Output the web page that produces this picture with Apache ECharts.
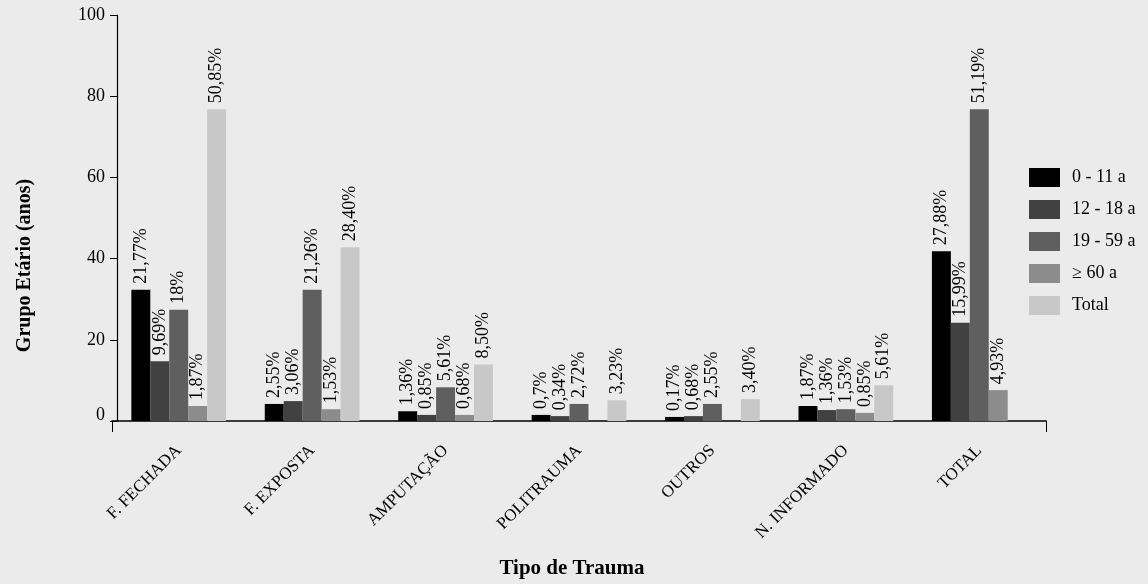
<!DOCTYPE html>
<html>
<head>
<meta charset="utf-8">
<script src="https://cdn.jsdelivr.net/npm/echarts@6/dist/echarts.min.js"></script>
<style>
html,body{margin:0;padding:0;background:#ebebeb;}
#chart{width:1148px;height:584px;}
</style>
</head>
<body>
<div id="chart"></div>
<script>
const categories = ['F. FECHADA','F. EXPOSTA','AMPUTAÇÃO','POLITRAUMA','OUTROS','N. INFORMADO','TOTAL'];
const seriesNames = ['0 - 11 a','12 - 18 a','19 - 59 a','≥ 60 a','Total'];
const yTicks = [0,20,40,60,80,100];

const v0_11   = [32.3, 4.2, 2.4, 1.5, 1.0, 3.7, 41.8];
const v12_18  = [14.7, 4.9, 1.5, 1.2, 1.2, 2.7, 24.2];
const v19_59  = [27.4, 32.3, 8.3, 4.2, 4.2, 2.9, 76.8];
const v60     = [3.7, 2.9, 1.5, null, null, 2.0, 7.6];
const vTotal  = [76.8, 42.8, 13.9, 5.1, 5.4, 8.8, null];

const l0_11   = ['21,77%','2,55%','1,36%','0,7%','0,17%','1,87%','27,88%'];
const l12_18  = ['9,69%','3,06%','0,85%','0,34%','0,68%','1,36%','15,99%'];
const l19_59  = ['18%','21,26%','5,61%','2,72%','2,55%','1,53%','51,19%'];
const l60     = ['1,87%','1,53%','0,68%',null,null,'0,85%','4,93%'];
const lTotal  = ['50,85%','28,40%','8,50%','3,23%','3,40%','5,61%',null];

const colors = ['#000000','#414141','#5f5f5f','#8c8c8c','#c8c8c8'];
const values = [v0_11, v12_18, v19_59, v60, vTotal];
const labels = [l0_11, l12_18, l19_59, l60, lTotal];
const FONT = '"Liberation Serif", "DejaVu Serif", serif';

const chart = echarts.init(document.getElementById('chart'), null, {renderer:'canvas'});

const series = seriesNames.map((name, i) => ({
  name: name,
  type: 'bar',
  data: values[i],
  barGap: '0%',
  barCategoryGap: '29%',
  itemStyle: {color: colors[i]},
  label: {
    show: true,
    position: 'top',
    rotate: 90,
    align: 'left',
    verticalAlign: 'middle',
    distance: 6,
    color: '#000',
    fontFamily: FONT,
    fontSize: 18,
    formatter: p => labels[i][p.dataIndex] == null ? '' : labels[i][p.dataIndex]
  }
}));

chart.setOption({
  backgroundColor: '#ebebeb',
  animation: false,
  color: colors,
  grid: {left: 112, right: 102, top: 15, bottom: 160, containLabel: false},
  legend: {
    orient: 'vertical',
    left: 1029,
    top: 168,
    padding: 0,
    itemWidth: 31,
    itemHeight: 19,
    itemGap: 13,
    icon: 'rect',
    textStyle: {fontFamily: FONT, fontSize: 18, color: '#000', padding: [0,0,0,7]},
    data: seriesNames
  },
  xAxis: {
    type: 'category',
    data: categories,
    name: 'Tipo de Trauma',
    nameLocation: 'middle',
    nameGap: 137,
    nameTextStyle: {fontFamily: FONT, fontSize: 21, fontWeight: 'bold', color: '#000', padding: [0,14,0,0]},
    axisLine: {show: true, lineStyle: {color: '#000', width: 1.5}},
    axisTick: {show: true, length: 11, inside: false, interval: (idx) => idx === 0, lineStyle: {color: '#000'}},
    axisLabel: {rotate: 45, margin: 27, fontFamily: FONT, fontSize: 17, color: '#000', interval: 0}
  },
  yAxis: {
    type: 'value',
    min: 0,
    max: 100,
    interval: 20,
    offset: -5,
    name: 'Grupo Etário (anos)',
    nameLocation: 'middle',
    nameGap: 82,
    nameRotate: 90,
    nameTextStyle: {fontFamily: FONT, fontSize: 20, fontWeight: 'bold', color: '#000', padding: [0,95,0,0]},
    axisLine: {show: true, lineStyle: {color: '#000', width: 1.2}},
    axisTick: {show: true, length: 7, lineStyle: {color: '#000'}},
    splitLine: {show: false},
    axisLabel: {margin: 12, fontFamily: FONT, fontSize: 18, color: '#000',
      formatter: v => v === 0 ? '{z|0}' : (yTicks.includes(v) ? String(v) : ''),
      rich: {z: {fontFamily: FONT, fontSize: 18, color: '#000', padding: [0,0,12,0]}}}
  },
  series: series
});
</script>
</body>
</html>
